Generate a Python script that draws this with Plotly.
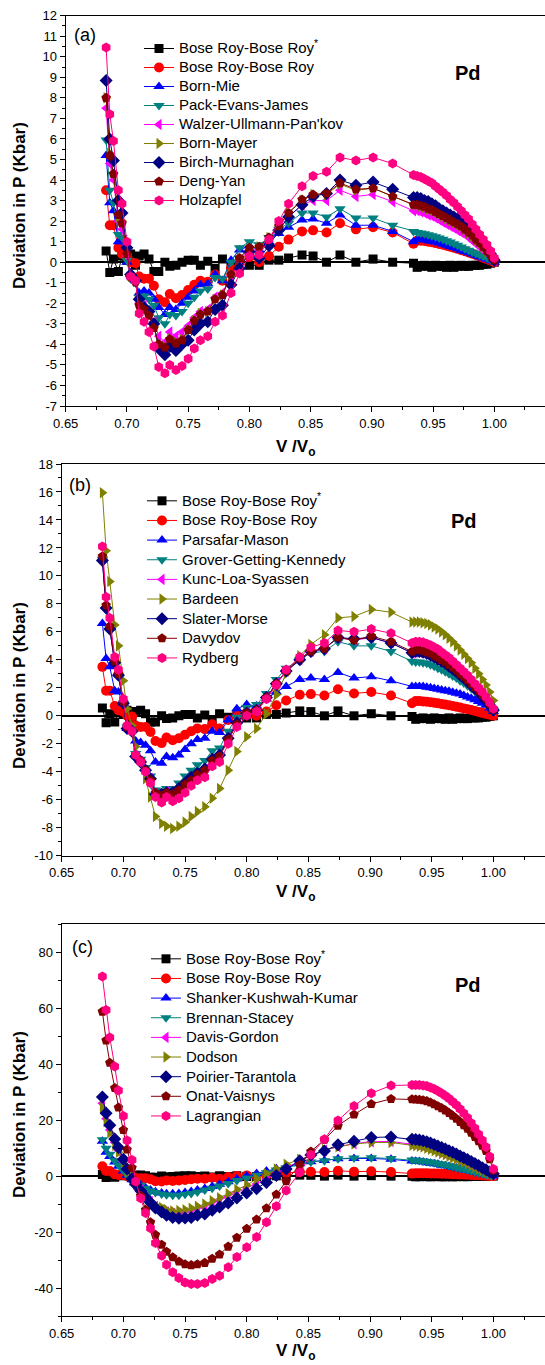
import plotly.graph_objects as go

# ---------------- data ----------------
V = [0.683, 0.686, 0.689, 0.693, 0.696, 0.700, 0.703, 0.707, 0.710, 0.714,
     0.718, 0.722, 0.726, 0.731, 0.735, 0.740, 0.745, 0.750, 0.755, 0.760,
     0.766, 0.772, 0.778, 0.785, 0.792, 0.800, 0.808, 0.816, 0.824, 0.832,
     0.843, 0.852, 0.863, 0.874, 0.887, 0.901, 0.917, 0.934,
     0.937, 0.940, 0.943, 0.946, 0.949, 0.952, 0.955, 0.958, 0.961, 0.964, 0.967,
     0.970, 0.973, 0.976, 0.979, 0.982, 0.985, 0.988, 0.991, 0.994, 0.997, 1.000]

BR_STAR = [0.55, -0.5, 0.15, -0.45, 0.3, 0.1, 0.4, -0.15, 0.3, 0.4, 0.15, -0.45, -0.45, 0.0, -0.2, -0.15,
           0.0, 0.1, 0.1, -0.15, 0.05, -0.3, 0.15, -0.1, 0.1, -0.15, -0.15, 0.1, 0.1, 0.2, 0.35, 0.3,
           0.0, 0.35, 0.0, 0.15, 0.0, -0.05,
           -0.25, -0.2, -0.15, -0.2, -0.25, -0.15, -0.2, -0.2, -0.25, -0.15, -0.25,
           -0.2, -0.15, -0.2, -0.2, -0.15, -0.15, -0.15, -0.1, -0.1, -0.05, 0.0]
BR = [3.5, 1.8, 1.8, 0.7, 0.4, 0.3, 0.0, -0.05, -0.7, -0.8, -0.8, -1.15, -1.8, -1.95, -1.55, -1.75,
      -1.6, -1.35, -1.1, -0.9, -0.95, -0.6, -0.9, -0.3, 0.05, 0.25, 0.0, 0.3, 0.75, 1.1, 1.5, 1.55,
      1.45, 1.9, 1.6, 1.7, 1.45, 0.9,
      1.05, 1.05, 1.03, 1.0, 0.97, 0.93, 0.89, 0.85, 0.8, 0.75, 0.7,
      0.65, 0.59, 0.53, 0.47, 0.41, 0.35, 0.28, 0.21, 0.14, 0.07, 0.0]

# panel (a)
A_BORN_MIE = [5.2, 2.9, 2.5, 1.0, 1.0, 0.0, -0.6, -0.8, -1.5, -1.4, -1.5, -1.8, -2.2, -2.55, -2.2, -2.3,
              -2.0, -1.7, -1.4, -1.1, -1.05, -0.6, -0.9, 0.1, 0.6, 0.8, 0.6, 1.0, 1.4, 1.7, 2.05, 2.1,
              1.9, 2.3, 1.8, 1.8, 1.5, 1.0,
              1.1, 1.1, 1.08, 1.05, 1.02, 0.98, 0.93, 0.88, 0.83, 0.77, 0.71,
              0.65, 0.58, 0.52, 0.46, 0.4, 0.33, 0.27, 0.2, 0.14, 0.07, 0.0]
A_PACK = [5.95, 3.5, 2.9, 1.35, 1.2, 0.1, -0.8, -1.0, -1.7, -1.65, -1.8, -2.1, -2.7, -3.0, -2.55, -2.6,
          -2.4, -2.0, -1.7, -1.4, -1.3, -0.75, -0.8, 0.0, 0.7, 1.0, 0.85, 1.2, 1.6, 1.9, 2.4, 2.4,
          2.2, 2.6, 2.15, 2.15, 1.8, 1.5,
          1.45, 1.42, 1.38, 1.34, 1.29, 1.24, 1.18, 1.12, 1.05, 0.98, 0.9,
          0.82, 0.74, 0.66, 0.58, 0.5, 0.42, 0.35, 0.28, 0.2, 0.12, 0.05]
A_WALZER = [7.5, 4.8, 4.0, 2.0, 1.6, 0.3, -0.8, -1.0, -2.0, -2.1, -2.4, -2.9, -3.6, -3.9, -3.4, -3.6,
            -3.4, -3.1, -2.7, -2.4, -2.3, -1.7, -1.5, -0.7, 0.1, 0.6, 0.6, 1.1, 1.6, 2.2, 2.8, 3.0,
            3.0, 3.5, 3.2, 3.3, 2.95, 2.5,
            2.5, 2.45, 2.4, 2.3, 2.25, 2.15, 2.05, 1.95, 1.85, 1.75, 1.65,
            1.55, 1.45, 1.35, 1.2, 1.05, 0.9, 0.75, 0.6, 0.45, 0.3, 0.1]
A_BORN_MAYER = [8.0, 5.3, 4.3, 2.2, 2.0, 0.4, -0.7, -0.95, -2.1, -2.25, -2.55, -3.15, -3.95, -4.1, -3.7, -3.9,
                -3.75, -3.3, -2.85, -2.5, -2.4, -1.8, -1.6, -0.6, 0.2, 0.7, 0.75, 1.2, 1.75, 2.4, 3.0, 3.3,
                3.3, 3.8, 3.5, 3.6, 3.2, 2.8,
                2.77, 2.72, 2.67, 2.57, 2.52, 2.42, 2.32, 2.22, 2.12, 2.02, 1.92,
                1.82, 1.72, 1.57, 1.42, 1.27, 1.07, 0.92, 0.72, 0.52, 0.32, 0.1]
A_BIRCH = [8.85, 6.0, 4.95, 3.0, 2.4, 0.7, -0.6, -0.9, -1.8, -2.2, -2.4, -3.0, -4.2, -4.5, -4.1, -4.3,
           -4.0, -3.8, -3.3, -3.0, -2.9, -2.3, -2.1, -1.1, -0.3, 0.5, 0.2, 0.8, 1.55, 2.2, 2.8, 3.2,
           3.35, 4.0, 3.75, 3.9, 3.55, 3.15,
           3.15, 3.1, 3.0, 2.95, 2.85, 2.75, 2.6, 2.5, 2.4, 2.3, 2.2,
           2.1, 1.95, 1.8, 1.65, 1.5, 1.3, 1.1, 0.9, 0.65, 0.4, 0.1]
A_DENG = [8.0, 5.2, 4.3, 2.3, 1.9, 0.4, -0.7, -0.95, -2.1, -2.3, -2.6, -3.2, -4.0, -4.15, -3.75, -3.95,
          -3.8, -3.3, -2.85, -2.55, -2.4, -1.8, -1.6, -0.6, 0.2, 0.7, 0.75, 1.2, 1.75, 2.4, 3.05, 3.3,
          3.35, 3.85, 3.55, 3.6, 3.2, 2.8,
          2.8, 2.75, 2.7, 2.6, 2.55, 2.45, 2.35, 2.25, 2.15, 2.05, 1.95,
          1.85, 1.75, 1.6, 1.45, 1.3, 1.1, 0.95, 0.75, 0.55, 0.35, 0.1]
A_HOLZ = [10.45, 7.2, 5.9, 3.5, 2.85, 1.0, -0.7, -0.9, -2.5, -2.9, -3.4, -4.1, -5.1, -5.4, -5.0, -5.25,
          -5.05, -4.7, -4.2, -3.8, -3.6, -2.9, -2.6, -1.5, -0.55, 0.3, 0.35, 1.1, 2.0, 2.85, 3.7, 4.2,
          4.4, 5.1, 4.95, 5.1, 4.8, 4.25,
          4.2, 4.15, 4.05, 3.95, 3.85, 3.7, 3.55, 3.4, 3.25, 3.05, 2.9,
          2.7, 2.5, 2.3, 2.1, 1.85, 1.6, 1.35, 1.1, 0.85, 0.55, 0.2]

# panel (b)
B_PARSAFAR = [6.6, 4.1, 3.5, 1.8, 1.7, 0.9, -0.9, -1.0, -1.8, -1.9, -2.1, -2.5, -3.3, -3.4, -2.9, -3.0,
              -2.8, -2.4, -2.0, -1.7, -1.6, -1.1, -1.2, -0.3, 0.5, 0.8, 0.7, 1.2, 1.7, 2.1, 2.6, 2.7,
              2.6, 3.1, 2.7, 2.8, 2.5, 2.1,
              2.1, 2.1, 2.1, 2.05, 2.0, 1.95, 1.9, 1.85, 1.8, 1.75, 1.68,
              1.62, 1.55, 1.45, 1.35, 1.25, 1.15, 1.02, 0.9, 0.75, 0.55, 0.3]
B_GROVER = [11.2, 7.6, 6.2, 3.7, 2.9, 0.9, -0.8, -1.1, -2.7, -3.1, -3.7, -4.3, -5.3, -5.4, -5.2, -5.2,
            -4.8, -4.3, -3.9, -3.5, -3.2, -2.5, -2.3, -1.1, -0.1, 0.6, 0.8, 1.6, 2.6, 3.4, 4.0, 4.5,
            4.6, 5.3, 5.0, 5.0, 4.6, 3.9,
            3.85, 3.85, 3.8, 3.75, 3.65, 3.55, 3.4, 3.3, 3.15, 3.0, 2.85,
            2.7, 2.5, 2.35, 2.15, 1.95, 1.75, 1.55, 1.3, 1.05, 0.75, 0.4]
B_KUNC = [11.2, 7.8, 6.3, 3.8, 3.0, 1.0, -0.85, -1.1, -2.85, -3.25, -3.9, -4.5, -5.5, -5.6, -5.45, -5.5,
          -5.2, -4.8, -4.4, -4.1, -3.8, -3.1, -2.8, -1.6, -0.5, 0.2, 0.4, 1.3, 2.3, 3.2, 4.0, 4.6,
          4.8, 5.6, 5.4, 5.6, 5.2, 4.5,
          4.55, 4.55, 4.5, 4.4, 4.3, 4.15, 4.0, 3.85, 3.7, 3.5, 3.3,
          3.1, 2.85, 2.65, 2.4, 2.15, 1.9, 1.65, 1.35, 1.05, 0.7, 0.35]
B_BARDEEN = [15.95, 11.8, 9.6, 6.5, 5.0, 2.5, 0.5, -0.7, -2.2, -3.2, -4.5, -5.8, -7.2, -7.7, -7.9, -8.05,
             -7.9, -7.6, -7.2, -6.85, -6.5, -5.9, -5.2, -3.9, -2.55, -1.5, -0.9, 0.15, 1.5, 3.0, 4.3, 5.1,
             5.8, 7.0, 7.1, 7.6, 7.4, 6.7,
             6.7, 6.7, 6.65, 6.6, 6.5, 6.35, 6.2, 6.0, 5.8, 5.55, 5.3,
             5.0, 4.7, 4.4, 4.1, 3.8, 3.4, 3.0, 2.6, 2.2, 1.7, 1.1]
B_SLATER = [11.1, 7.7, 6.2, 3.8, 2.9, 0.9, -0.9, -1.1, -2.9, -3.3, -3.9, -4.5, -5.6, -5.6, -5.5, -5.5,
            -5.2, -4.8, -4.4, -4.1, -3.8, -3.1, -2.8, -1.6, -0.5, 0.2, 0.4, 1.3, 2.3, 3.2, 4.0, 4.6,
            4.8, 5.6, 5.5, 5.6, 5.2, 4.5,
            4.6, 4.6, 4.55, 4.45, 4.35, 4.2, 4.05, 3.9, 3.75, 3.55, 3.35,
            3.15, 2.9, 2.7, 2.45, 2.2, 1.95, 1.7, 1.4, 1.1, 0.75, 0.4]
B_DAVYDOV = [11.4, 7.9, 6.4, 3.9, 3.0, 1.0, -0.8, -1.1, -2.8, -3.2, -3.9, -4.6, -5.5, -5.7, -5.5, -5.6,
             -5.3, -4.9, -4.6, -4.2, -3.9, -3.2, -2.9, -1.7, -0.6, 0.2, 0.4, 1.3, 2.3, 3.2, 4.1, 4.6,
             4.8, 5.6, 5.4, 5.7, 5.3, 4.6,
             4.7, 4.7, 4.65, 4.55, 4.45, 4.3, 4.15, 4.0, 3.85, 3.65, 3.45,
             3.25, 3.0, 2.8, 2.55, 2.3, 2.05, 1.8, 1.5, 1.2, 0.85, 0.45]
B_RYDBERG = [12.1, 8.5, 7.0, 4.2, 3.3, 1.2, -0.7, -1.1, -2.8, -3.3, -4.0, -4.8, -5.8, -6.2, -5.8, -6.1,
             -5.9, -5.5, -5.0, -4.6, -4.4, -3.6, -3.3, -2.0, -0.8, 0.0, 0.3, 1.2, 2.2, 3.3, 4.2, 4.9,
             5.2, 6.1, 6.0, 6.2, 5.9, 5.2,
             5.3, 5.3, 5.25, 5.15, 5.05, 4.9, 4.75, 4.55, 4.35, 4.15, 3.9,
             3.65, 3.4, 3.15, 2.9, 2.6, 2.3, 2.0, 1.7, 1.35, 0.95, 0.5]

# panel (c)
C_SHANKER = [12.5, 8.5, 7.0, 5.0, 3.5, 1.8, 0.3, -1.3, -2.3, -3.2, -4.2, -5.0, -5.6, -6.0, -6.3, -6.3,
             -6.2, -5.9, -5.5, -5.0, -4.4, -3.7, -2.9, -2.0, -1.0, 0.0, 0.9, 1.8, 2.6, 3.4, 4.4, 5.1,
             5.6, 6.2, 6.3, 6.3, 6.0, 5.4,
             5.3, 5.2, 5.0, 4.8, 4.6, 4.4, 4.2, 3.9, 3.7, 3.4, 3.1,
             2.9, 2.6, 2.3, 2.0, 1.7, 1.4, 1.1, 0.8, 0.5, 0.2, 0.0]
C_BRENNAN = [13.0, 10.0, 7.8, 5.5, 4.0, 2.0, 0.5, -1.2, -2.2, -3.3, -4.3, -5.2, -5.9, -6.4, -6.7, -6.8,
             -6.8, -6.5, -6.2, -5.7, -5.0, -4.3, -3.5, -2.6, -1.6, -0.7, 0.3, 1.2, 2.2, 3.0, 4.2, 5.0,
             5.5, 6.2, 6.5, 6.6, 6.3, 5.8,
             5.7, 5.6, 5.4, 5.2, 5.0, 4.8, 4.5, 4.3, 4.0, 3.7, 3.4,
             3.1, 2.8, 2.5, 2.2, 1.8, 1.5, 1.2, 0.9, 0.5, 0.2, 0.0]
C_DAVIS = [26.0, 20.5, 16.5, 12.0, 9.2, 5.2, 2.0, -1.2, -3.0, -5.0, -7.2, -9.2, -10.8, -12.0, -12.8, -13.3,
           -13.4, -13.1, -12.6, -12.0, -11.2, -10.0, -8.8, -7.4, -5.8, -4.2, -2.8, -1.0, 1.0, 3.0, 5.4, 7.3,
           9.2, 10.5, 11.6, 12.3, 12.4, 11.5,
           11.3, 11.1, 10.8, 10.4, 10.0, 9.5, 9.0, 8.5, 8.0, 7.5, 7.0,
           6.4, 5.8, 5.3, 4.7, 4.1, 3.4, 2.8, 2.1, 1.5, 0.9, 0.4]
C_DODSON = [24.5, 19.5, 15.5, 11.0, 8.5, 4.5, 1.5, -1.5, -3.0, -4.8, -7.0, -8.8, -10.3, -11.2, -12.0, -12.5,
            -12.3, -12.0, -11.5, -10.8, -10.0, -8.8, -7.7, -6.3, -4.8, -3.3, -1.0, 0.8, 2.5, 4.2, 6.0, 7.2,
            9.5, 10.5, 11.5, 12.0, 12.0, 11.0,
            10.9, 10.7, 10.4, 10.0, 9.6, 9.1, 8.6, 8.1, 7.6, 7.1, 6.6,
            6.1, 5.5, 5.0, 4.4, 3.8, 3.2, 2.6, 2.0, 1.4, 0.8, 0.3]
C_POIRIER = [28.3, 22.5, 18.2, 13.3, 10.2, 6.0, 2.5, -1.0, -3.0, -5.2, -7.5, -9.5, -11.4, -12.8, -14.0, -14.8,
             -15.1, -15.0, -14.8, -14.0, -13.5, -12.2, -11.0, -9.6, -7.8, -6.0, -4.5, -2.3, 0.2, 2.5, 5.5, 7.5,
             9.0, 11.2, 12.5, 13.8, 14.0, 13.2,
             13.1, 12.9, 12.6, 12.3, 11.8, 11.3, 10.8, 10.2, 9.7, 9.1, 8.5,
             7.9, 7.2, 6.6, 5.9, 5.2, 4.5, 3.8, 3.0, 2.3, 1.5, 0.8]
C_ONAT = [58.8, 48.5, 40.5, 31.5, 24.5, 16.5, 9.5, 3.0, -2.0, -7.0, -12.0, -16.5, -21.0, -24.5, -27.0, -29.0,
          -30.5, -31.5, -31.8, -31.5, -31.0, -29.5, -28.0, -25.2, -22.0, -18.8, -15.5, -11.5, -6.6, -1.8, 4.0, 8.8,
          13.0, 18.0, 22.0, 25.8, 27.6, 27.5,
          27.4, 27.3, 27.1, 26.8, 26.3, 25.7, 25.0, 24.3, 23.5, 22.6, 21.6,
          20.5, 19.4, 18.2, 16.9, 15.5, 14.0, 12.5, 10.9, 9.0, 6.0, 2.0]
C_LAGR = [71.3, 59.4, 49.5, 39.2, 30.6, 21.5, 12.7, 5.8, -1.9, -7.9, -13.2, -18.6, -23.9, -28.5, -31.7, -34.4,
          -36.4, -38.0, -38.6, -38.6, -38.2, -36.8, -35.6, -32.6, -28.9, -25.4, -21.8, -16.5, -10.8, -5.1, 1.3, 7.6,
          13.2, 19.9, 25.1, 29.6, 32.4, 32.6,
          32.6, 32.6, 32.4, 32.2, 31.7, 31.1, 30.4, 29.6, 28.7, 27.7, 26.6,
          25.4, 24.0, 22.5, 20.9, 19.0, 17.1, 15.0, 12.8, 10.4, 7.0, 2.5]

NAMES_A = ["Bose Roy-Bose Roy<sup>*</sup>", "Bose Roy-Bose Roy", "Born-Mie", "Pack-Evans-James",
           "Walzer-Ullmann-Pan'kov", "Born-Mayer", "Birch-Murnaghan", "Deng-Yan", "Holzapfel"]
NAMES_B = ["Bose Roy-Bose Roy<sup>*</sup>", "Bose Roy-Bose Roy", "Parsafar-Mason", "Grover-Getting-Kennedy",
           "Kunc-Loa-Syassen", "Bardeen", "Slater-Morse", "Davydov", "Rydberg"]
NAMES_C = ["Bose Roy-Bose Roy<sup>*</sup>", "Bose Roy-Bose Roy", "Shanker-Kushwah-Kumar", "Brennan-Stacey",
           "Davis-Gordon", "Dodson", "Poirier-Tarantola", "Onat-Vaisnys", "Lagrangian"]
SERIES_A = [BR_STAR, BR, A_BORN_MIE, A_PACK, A_WALZER, A_BORN_MAYER, A_BIRCH, A_DENG, A_HOLZ]
SERIES_B = [BR_STAR, BR, B_PARSAFAR, B_GROVER, B_KUNC, B_BARDEEN, B_SLATER, B_DAVYDOV, B_RYDBERG]
SERIES_C = [BR_STAR, BR, C_SHANKER, C_BRENNAN, C_DAVIS, C_DODSON, C_POIRIER, C_ONAT, C_LAGR]

X_TICKS = [0.65, 0.70, 0.75, 0.80, 0.85, 0.90, 0.95, 1.00]
X_TICKTEXT = ["0.65", "0.70", "0.75", "0.80", "0.85", "0.90", "0.95", "1.00"]
YA_TICKS = list(range(-7, 13))
YB_TICKS = list(range(-10, 19, 2))
YC_TICKS = [-40, -20, 0, 20, 40, 60, 80]

SYMBOLS = ["square", "circle", "triangle-up", "triangle-down", "triangle-left",
           "triangle-right", "diamond", "pentagon", "hexagon"]
COLORS = ["#000000", "#FF0000", "#0000FF", "#008080", "#FF00FF",
          "#808000", "#000080", "#800000", "#FF0080"]
MSIZES = [9, 10, 10, 10, 10, 10, 10, 10, 10]

# ---------------- layout helpers ----------------
W, H = 545, 1365
FONT = "Liberation Sans, Arial, sans-serif"
LEG_TEXT_PX = 15        # visible legend text size
LEG_BASE = [12.3, 12.8, 12.8]  # legend base size per panel (sets row spacing)


def fx(p):
    return p / W


def fy(p):
    return 1 - p / H


def ticktext(vals):
    return [str(v) for v in vals]  # plain hyphen-minus


def legname(s):
    return "<span style='font-size:%spx'>%s</span>" % (LEG_TEXT_PX, s)


fig = go.Figure()

panels = [
    dict(names=NAMES_A, series=SERIES_A, ax="x", ay="y", leg="legend"),
    dict(names=NAMES_B, series=SERIES_B, ax="x2", ay="y2", leg="legend2"),
    dict(names=NAMES_C, series=SERIES_C, ax="x3", ay="y3", leg="legend3"),
]
for p in panels:
    for j, (nm, ys) in enumerate(zip(p["names"], p["series"])):
        fig.add_trace(go.Scatter(
            x=V, y=ys, mode="lines+markers", name=legname(nm),
            xaxis=p["ax"], yaxis=p["ay"], legend=p["leg"],
            line=dict(color=COLORS[j], width=1),
            marker=dict(symbol=SYMBOLS[j], size=MSIZES[j], color=COLORS[j], line=dict(width=0)),
        ))

# pixel geometry of each panel: (left, top, bottom)
geo = [(65.7, 15.7, 406.0), (61.7, 464.0, 855.7), (61.7, 924.3, 1316.0)]
xscale = [428.6, 431.7, 431.7]  # px per 0.35 of V/Vo
yranges = [[-7, 12], [-10, 18], [-50, 90]]
yticks = [YA_TICKS, YB_TICKS, YC_TICKS]
yminor = [0.5, 1, 10]

axis_common = dict(
    showline=True, linecolor="black", linewidth=1.3, ticks="outside", tickcolor="black",
    tickwidth=1.2, ticklen=5, showgrid=False, zeroline=False, automargin=False,
    tickfont=dict(family=FONT, size=13, color="black"),
)

layout = dict(
    width=W, height=H, margin=dict(l=0, r=0, t=0, b=0, pad=0, autoexpand=False),
    paper_bgcolor="white", plot_bgcolor="white", showlegend=True,
    font=dict(family=FONT, color="black"),
)
annotations = []
for i in range(3):
    left, top, bot = geo[i]
    xmax = 0.65 + (W - left) / xscale[i] * 0.35
    sx = "" if i == 0 else str(i + 1)
    layout["xaxis" + sx] = dict(
        axis_common, domain=[fx(left), 1], range=[0.65, xmax], anchor="y" + sx,
        tickmode="array", tickvals=X_TICKS, ticktext=X_TICKTEXT, mirror=True,
        minor=dict(tickmode="linear", tick0=0.65, dtick=0.025, ticklen=3, ticks="outside",
                   tickcolor="black", tickwidth=1.2),
    )
    layout["yaxis" + sx] = dict(
        axis_common, domain=[fy(bot), fy(top)], range=yranges[i], anchor="x" + sx,
        tickmode="array", tickvals=yticks[i], ticktext=ticktext(yticks[i]),
        zeroline=True, zerolinecolor="black", zerolinewidth=1.6,
        minor=dict(tickmode="linear", tick0=0, dtick=yminor[i], ticklen=3, ticks="outside",
                   tickcolor="black", tickwidth=1.2),
    )

# legends
leg_pos = [(139, 34), (142, 486), (146, 944)]
for i, (lx, ly) in enumerate(leg_pos):
    key = "legend" if i == 0 else "legend" + str(i + 1)
    layout[key] = dict(
        x=fx(lx), y=fy(ly), xanchor="left", yanchor="top",
        bgcolor="rgba(0,0,0,0)", borderwidth=0,
        font=dict(family=FONT, size=LEG_BASE[i], color="black"),
        itemwidth=30, tracegroupgap=0,
    )

# annotations: panel letters, Pd, axis titles
letters = ["(a)", "(b)", "(c)"]
letter_pos = [(85, 35), (80, 485), (82, 947)]
pd_pos = [(468, 73), (464, 521), (468, 985)]
xtitle_y = [448, 893, 1352]
ytitle_y = [206, 686, 1115]


def ann(text, x, y, size, angle=0):
    return dict(text=text, x=fx(x), y=fy(y), xref="paper", yref="paper", showarrow=False,
                xanchor="center", yanchor="middle", textangle=angle,
                font=dict(family=FONT, size=size, color="black"))


for i in range(3):
    annotations.append(ann(letters[i], letter_pos[i][0], letter_pos[i][1], 18))
    annotations.append(ann("<b>Pd</b>", pd_pos[i][0], pd_pos[i][1], 20))
    annotations.append(ann("<b>V /V<sub>o</sub></b>", 295, xtitle_y[i], 17))
    annotations.append(ann("<b>Deviation in P (Kbar)</b>", 19, ytitle_y[i], 17, -90))
layout["annotations"] = annotations

fig.update_layout(**layout)
fig.write_html(
    "out.html",
    config={"displayModeBar": False},
    post_script="document.body.style.margin='0';document.body.style.padding='0';"
                "document.body.style.overflow='hidden';",
)
